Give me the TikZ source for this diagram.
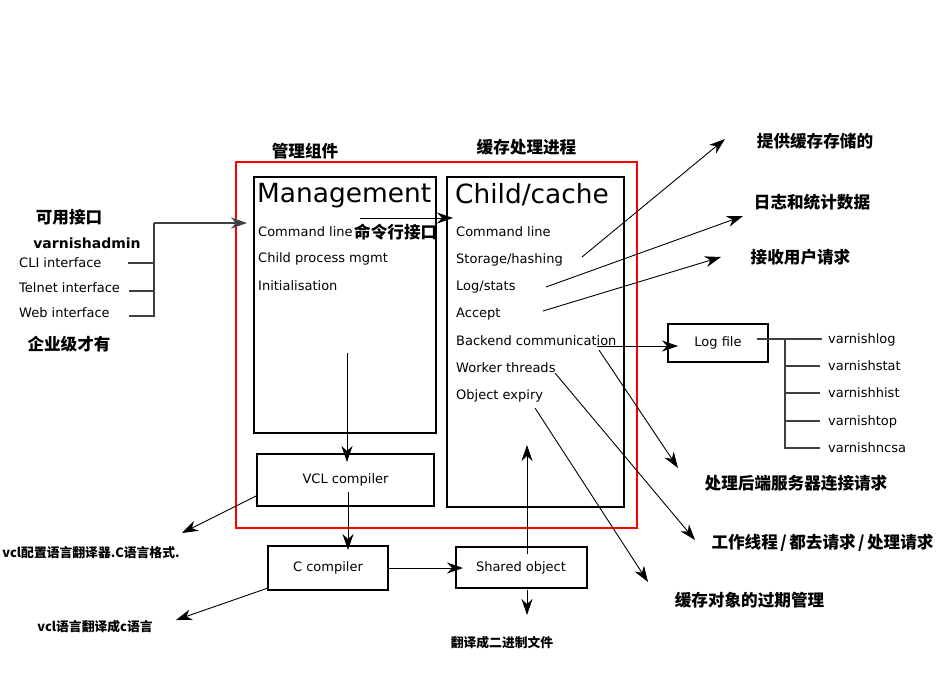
\documentclass[tikz,border=0pt]{standalone}
\usepackage{fontspec}
\setmainfont{DejaVu Sans}
\newfontfamily\cjk{Noto Sans CJK SC}
\usetikzlibrary{arrows.meta}
\begin{document}
\begin{tikzpicture}[x=1pt,y=-1pt,
  box/.style={draw, line width=2pt, inner sep=0pt, font=\fontsize{13}{15}\selectfont},
  item/.style={anchor=west, inner sep=0pt, text height=9.5pt, text depth=0pt, font=\fontsize{13}{15}\selectfont},
  bigtitle/.style={anchor=west, inner sep=0pt, text height=19.3pt, text depth=0pt, font=\fontsize{26.4}{30}\selectfont},
  zh/.style={inner sep=0pt, text height=12.6pt, text depth=0pt, font=\cjk\bfseries\fontsize{16.6}{18}\selectfont},
  zhs/.style={inner sep=0pt, text height=9.7pt, text depth=0pt, font=\cjk\bfseries\fontsize{12.8}{14}\selectfont},
  arr/.style={line width=0.9pt, -{Stealth[length=16pt,width=11pt,inset=5pt]}},
  bus/.style={line width=1.4pt, draw=black!75},
]
\useasboundingbox (0,0) rectangle (936,673);

% frames
\node[draw=red, line width=2pt, inner sep=0pt, minimum width=401pt, minimum height=366pt] (red) at (436.5,345) {};
\node[box, minimum width=182pt, minimum height=256pt] (mgmt) at (345,305) {};
\node[box, minimum width=177pt, minimum height=330pt] (child) at (535.5,342) {};
\node[box, minimum width=177pt, minimum height=52pt] (vcl) at (345.5,480) {VCL compiler};
\node[box, minimum width=120pt, minimum height=44pt] (cc) at (328,568) {C compiler};
\node[box, minimum width=131pt, minimum height=41pt] (so) at (521,567.5) {Shared object};
\node[box, minimum width=100pt, minimum height=38pt] (log) at (718,343) {Log file};

% management contents
\node[bigtitle] (mtitle) at (257,193) {Management};
\node[item] (mcmd) at (258,232) {Command line};
\node[item] (mchild) at (258,258) {Child process mgmt};
\node[item] (minit) at (258,286) {Initialisation};

% child contents
\node[bigtitle] (ctitle) at (455,194) {Child/cache};
\node[item] (ccmd) at (456,232) {Command line};
\node[item] (cstore) at (456,259) {Storage/hashing};
\node[item] (clog) at (456,286) {Log/stats};
\node[item] (cacc) at (456,313) {Accept};
\node[item] (cback) at (456,341) {Backend communication};
\node[item] (cwork) at (456,368) {Worker threads};
\node[item] (cexp) at (456,395) {Object expiry};

% interfaces
\node[item] (cli) at (19,263) {CLI interface};
\node[item] (telnet) at (19,288) {Telnet interface};
\node[item] (web) at (19,313) {Web interface};
\node[zh] (kyjk) at (69,217) {可用接口};
\node[inner sep=0pt, text height=10.2pt, text depth=0pt, font=\bfseries\fontsize{14}{16}\selectfont] (vadmin) at (87,243) {varnishadmin};
\node[zh] (qyj) at (69,344) {企业级才有};

% log tools
\node[item] (vlog) at (828,339) {varnishlog};
\node[item] (vstat) at (828,366) {varnishstat};
\node[item] (vhist) at (828,393) {varnishhist};
\node[item] (vtop) at (828,421) {varnishtop};
\node[item] (vncsa) at (828,448) {varnishncsa};

% chinese labels
\node[zh] (glzj) at (305,151) {管理组件};
\node[zh] (hcclj) at (526.5,147) {缓存处理进程};
\node[zh, anchor=west] (mlh) at (354,232) {命令行接口};
\node[zh] (tghc) at (815,141) {提供缓存存储的};
\node[zh] (rzhtj) at (812,202) {日志和统计数据};
\node[zh] (jsyh) at (800.5,257) {接收用户请求};
\node[zh] (clhd) at (796,483) {处理后端服务器连接请求};
\node[zh] (gzxc) at (822.5,542) {工作线程\hspace{2.5pt}/\hspace{2.5pt}都去请求\hspace{2.5pt}/\hspace{2.5pt}处理请求};
\node[zh] (hcdx) at (749.5,600) {缓存对象的过期管理};
\node[zhs] (vclpz) at (91,553) {vcl配置语言翻译器.C语言格式.};
\node[zhs] (vclyy) at (95,627) {vcl语言翻译成c语言};
\node[zhs] (fycejz) at (502,643) {翻译成二进制文件};

% coordinates for free ends
\coordinate (busTop) at (154,223);
\coordinate (busBot) at (154,316);
\coordinate (mgmtIn) at (247,223);
\coordinate (cliE) at (128,263);
\coordinate (telE) at (129,291);
\coordinate (webE) at (129,316);
\coordinate (cmdA) at (360,218);
\coordinate (cmdB) at (453,218);
\coordinate (mDownA) at (347,353);
\coordinate (mDownB) at (347,462);
\coordinate (vDownA) at (348,492);
\coordinate (vDownB) at (348,550);
\coordinate (ccA) at (388,568);
\coordinate (ccB) at (463,568);
\coordinate (soUpA) at (527,554);
\coordinate (soUpB) at (527,445);
\coordinate (soDnA) at (527,590);
\coordinate (soDnB) at (527,615);
\coordinate (vclA) at (258,495);
\coordinate (vclB) at (182,533);
\coordinate (cc2A) at (268,588);
\coordinate (cc2B) at (176,620);
\coordinate (stA) at (582,257);
\coordinate (stB) at (725,139);
\coordinate (lsA) at (546,287);
\coordinate (lsB) at (743,216);
\coordinate (acA) at (543,311);
\coordinate (acB) at (721,257);
\coordinate (bkA) at (599,350);
\coordinate (bkB) at (678,468);
\coordinate (bk2A) at (597,346);
\coordinate (bk2B) at (678,346);
\coordinate (wkA) at (555,373);
\coordinate (wkB) at (695,540);
\coordinate (exA) at (535,408);
\coordinate (exB) at (648,582);
\coordinate (trA) at (757,339);
\coordinate (trJ) at (785,339);
\coordinate (trEnd) at (785,448);

% interface bus
\draw[bus] (cliE) -- (cliE -| busTop);
\draw[bus] (telE) -- (telE -| busTop);
\draw[bus] (webE) -- (busBot) -- (busTop);
\draw[arr, line width=1.2pt, draw=black!75] (busTop) -- (mgmtIn);

% arrows
\draw[arr] (cmdA) -- (cmdB);
\draw[arr] (mDownA) -- (mDownB);
\draw[arr] (vDownA) -- (vDownB);
\draw[arr] (ccA) -- (ccB);
\draw[arr] (soUpA) -- (soUpB);
\draw[arr] (soDnA) -- (soDnB);
\draw[arr] (vclA) -- (vclB);
\draw[arr] (cc2A) -- (cc2B);
\draw[arr] (stA) -- (stB);
\draw[arr] (lsA) -- (lsB);
\draw[arr] (acA) -- (acB);
\draw[arr] (bkA) -- (bkB);
\draw[arr] (bk2A) -- (bk2B);
\draw[arr] (wkA) -- (wkB);
\draw[arr] (exA) -- (exB);

% log tree
\draw[bus] (trA) -- (vlog.west -| 822,0);
\draw[bus] (trJ) -- (trEnd) -- (trEnd -| 820,0);
\draw[bus] (vstat.west -| trJ) -- (vstat.west -| 820,0);
\draw[bus] (vhist.west -| trJ) -- (vhist.west -| 820,0);
\draw[bus] (vtop.west -| trJ) -- (vtop.west -| 820,0);
\end{tikzpicture}
\end{document}
